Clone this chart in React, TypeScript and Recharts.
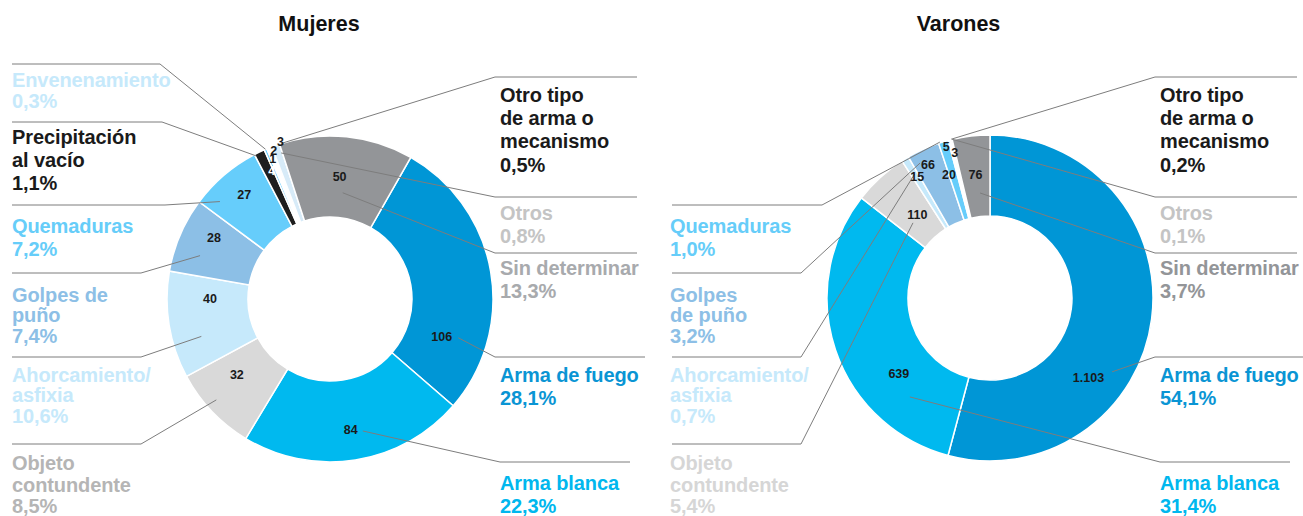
import React from 'react';
import { PieChart, Pie, Cell } from 'recharts';

// categories in clockwise order, starting at "Arma de fuego"
const categories = [
  'Arma de fuego',
  'Arma blanca',
  'Objeto contundente',
  'Ahorcamiento/asfixia',
  'Golpes de puño',
  'Quemaduras',
  'Precipitación al vacío',
  'Envenenamiento',
  'Otro tipo de arma o mecanismo',
  'Otros',
  'Sin determinar',
];
const mujeresValues = [106, 84, 32, 40, 28, 27, 4, 1, 2, 3, 50];
const varonesValues = [1103, 639, 110, 15, 66, 20, null, null, 5, 3, 76];

const sliceColorsM = ['#0096d6', '#00b9ef', '#d9d9d9', '#c6e9fb', '#8cbfe6', '#66cdfb', '#1e1e1e', '#66ccff', '#ffffff', '#d7ebf8', '#939598'];
const sliceColorsV = ['#0096d6', '#00b9ef', '#d9d9d9', '#c6e9fb', '#8cbfe6', '#66cdfb', '#1e1e1e', '#66ccff', '#ffffff', '#f2f2f2', '#939598'];
const textColorsM = ['#0a95d4', '#00b7ee', '#b5b5b5', '#c6e9fb', '#8dbfe6', '#66cdf9', '#1a1a1a', '#c6e9fb', '#1a1a1a', '#c4c4c4', '#a8aaad'];
const textColorsV = ['#0a95d4', '#00b7ee', '#d6d6d6', '#c6e9fb', '#8dbfe6', '#66cdf9', '#1a1a1a', '#c6e9fb', '#1a1a1a', '#c4c4c4', '#939598'];

const FONT = '"Liberation Sans", Arial, sans-serif';
const RAD = Math.PI / 180;

interface LabelLayout {
  num: [number, number]; // [clockwise offset from mid angle, radius]
  lead: [number, number];
  elbow: [number, number];
  end: number;
  text: [number, number];
  lh: number;
  lines: string[];
  numColor?: string;
}

const layoutM: Record<string, LabelLayout> = {
  'Arma de fuego': { num: [28.5, 118], lead: [26.5, 134], elbow: [495, 357], end: 645, text: [500, 381.7], lh: 23, lines: ['Arma de fuego'] },
  'Arma blanca': { num: [0, 133], lead: [-5, 136], elbow: [500, 462], end: 630, text: [500, 490], lh: 23, lines: ['Arma blanca'] },
  'Objeto contundente': { num: [4.5, 120], lead: [2, 152], elbow: [141, 444], end: 12, text: [12, 470], lh: 21.5, lines: ['Objeto', 'contundente'] },
  'Ahorcamiento/asfixia': { num: [9, 120], lead: [-7, 134], elbow: [141, 357], end: 12, text: [12, 381.7], lh: 20.7, lines: ['Ahorcamiento/', 'asfixia'] },
  'Golpes de puño': { num: [4.5, 131], lead: [-4.8, 137], elbow: [141, 273], end: 12, text: [12, 301.7], lh: 20.7, lines: ['Golpes de', 'puño'] },
  'Quemaduras': { num: [1, 135], lead: [-8, 147], elbow: [165, 205], end: 12, text: [12, 233], lh: 23, lines: ['Quemaduras'] },
  'Precipitación al vacío': { num: [1.3, 141], lead: [-1.6, 161], elbow: [162, 122], end: 12, text: [12, 144], lh: 23, lines: ['Precipitación', 'al vacío'], numColor: '#ffffff' },
  'Envenenamiento': { num: [1, 151], lead: [0, 163], elbow: [160, 64], end: 12, text: [12, 87], lh: 21, lines: ['Envenenamiento'] },
  'Otro tipo de arma o mecanismo': { num: [1, 158], lead: [4.5, 163], elbow: [495, 77], end: 637, text: [500, 101.7], lh: 23.3, lines: ['Otro tipo', 'de arma o', 'mecanismo'] },
  'Otros': { num: [2, 165], lead: [1, 154], elbow: [495, 197], end: 637, text: [500, 220], lh: 23, lines: ['Otros'] },
  'Sin determinar': { num: [-1.3, 122], lead: [1, 107], elbow: [495, 253], end: 637, text: [500, 275], lh: 23, lines: ['Sin determinar'] },
};

const layoutV: Record<string, LabelLayout> = {
  'Arma de fuego': { num: [31.5, 126.7], lead: [23.7, 142.7], elbow: [1155, 357], end: 1303, text: [1160, 381.7], lh: 23, lines: ['Arma de fuego'] },
  'Arma blanca': { num: [-21.4, 119], lead: [-32.4, 127.3], elbow: [1160, 462], end: 1290, text: [1160, 490], lh: 23, lines: ['Arma blanca'] },
  'Objeto contundente': { num: [1.4, 110.6], lead: [-3.3, 107.6], elbow: [801, 444], end: 672, text: [670, 470], lh: 21.5, lines: ['Objeto', 'contundente'] },
  'Ahorcamiento/asfixia': { num: [0.4, 141.3], lead: [0, 145], elbow: [801, 357], end: 672, text: [670, 381.7], lh: 20.7, lines: ['Ahorcamiento/', 'asfixia'] },
  'Golpes de puño': { num: [-0.8, 146.7], lead: [-3.2, 152], elbow: [801, 273], end: 672, text: [670, 301.7], lh: 20.7, lines: ['Golpes', 'de puño'] },
  'Quemaduras': { num: [-1.8, 129.7], lead: [-1.2, 163.8], elbow: [822, 205], end: 672, text: [670, 233], lh: 23, lines: ['Quemaduras'] },
  'Otro tipo de arma o mecanismo': { num: [-1.8, 157], lead: [1, 163.5], elbow: [1155, 77], end: 1297, text: [1160, 101.7], lh: 23.3, lines: ['Otro tipo', 'de arma o', 'mecanismo'] },
  'Otros': { num: [0, 149], lead: [0, 163.7], elbow: [1155, 197], end: 1297, text: [1160, 220], lh: 23, lines: ['Otros'] },
  'Sin determinar': { num: [0, 123.8], lead: [1.3, 105.5], elbow: [1155, 253], end: 1297, text: [1160, 275], lh: 23, lines: ['Sin determinar'] },
};

const buildData = (values: (number | null)[], fills: string[], textColors: string[]) =>
  categories
    .map((name, i) => ({ name, value: values[i], fill: fills[i], textColor: textColors[i] }))
    .filter((d) => d.value != null && d.value > 0) as { name: string; value: number; fill: string; textColor: string }[];

const dataM = buildData(mujeresValues, sliceColorsM, textColorsM);
const dataV = buildData(varonesValues, sliceColorsV, textColorsV);

const fmtNumber = (v: number) => String(v).replace(/\B(?=(\d{3})+(?!\d))/g, '.');
const fmtPct = (p: number) => (p * 100).toFixed(1).replace('.', ',') + '%';

// midAngle is recharts' counter-clockwise angle; offsets are clockwise degrees
const polar = (cx: number, cy: number, r: number, angle: number) => ({
  x: cx + r * Math.cos(-angle * RAD),
  y: cy + r * Math.sin(-angle * RAD),
});

const makeLabel = (layout: Record<string, LabelLayout>) => (props: any) => {
  const { cx, cy, midAngle, name, value, percent, payload } = props;
  const l = layout[name];
  if (!l) return null;
  const n = polar(cx, cy, l.num[1], midAngle - l.num[0]);
  const s = polar(cx, cy, l.lead[1], midAngle - l.lead[0]);
  const color = payload?.textColor ?? props.textColor;
  const lines = [...l.lines, fmtPct(percent)];
  return (
    <g>
      <polyline
        points={`${s.x},${s.y} ${l.elbow[0]},${l.elbow[1]} ${l.end},${l.elbow[1]}`}
        fill="none"
        stroke="#7d7d7d"
        strokeWidth={1}
      />
      <text
        x={n.x}
        y={n.y}
        textAnchor="middle"
        dominantBaseline="central"
        fontFamily={FONT}
        fontWeight="bold"
        fontSize={12.5}
        fill={l.numColor ?? '#1a1a1a'}
      >
        {fmtNumber(value)}
      </text>
      {lines.map((line, i) => (
        <text
          key={i}
          x={l.text[0]}
          y={l.text[1] + i * l.lh}
          fontFamily={FONT}
          fontWeight="bold"
          fontSize={20}
          letterSpacing={-0.1}
          fill={color}
        >
          {line}
        </text>
      ))}
    </g>
  );
};

const App: React.FC = () => {
  return (
    <div style={{ position: 'absolute', left: 0, top: 0, width: 1303, height: 516, background: '#fff' }}>
      <PieChart width={1303} height={516} margin={{ top: 0, right: 0, bottom: 0, left: 0 }}>
        <Pie
          data={dataM}
          dataKey="value"
          nameKey="name"
          cx={330}
          cy={299}
          innerRadius={82}
          outerRadius={163}
          startAngle={60.3}
          endAngle={-299.7}
          stroke="#ffffff"
          strokeWidth={1.5}
          label={makeLabel(layoutM)}
          labelLine={false}
          isAnimationActive={false}
        >
          {dataM.map((d) => (
            <Cell key={d.name} fill={d.fill} />
          ))}
        </Pie>
        <Pie
          data={dataV}
          dataKey="value"
          nameKey="name"
          cx={990}
          cy={298}
          innerRadius={82}
          outerRadius={163}
          startAngle={90}
          endAngle={-270}
          stroke="#ffffff"
          strokeWidth={1.5}
          label={makeLabel(layoutV)}
          labelLine={false}
          isAnimationActive={false}
        >
          {dataV.map((d) => (
            <Cell key={d.name} fill={d.fill} />
          ))}
        </Pie>
      </PieChart>
      <svg width={1303} height={516} style={{ position: 'absolute', left: 0, top: 0, pointerEvents: 'none' }}>
        <text x={319} y={31} textAnchor="middle" fontFamily={FONT} fontWeight="bold" fontSize={21.5} fill="#111">
          Mujeres
        </text>
        <text x={958.5} y={31} textAnchor="middle" fontFamily={FONT} fontWeight="bold" fontSize={21.5} fill="#111">
          Varones
        </text>
      </svg>
    </div>
  );
};

export default App;
